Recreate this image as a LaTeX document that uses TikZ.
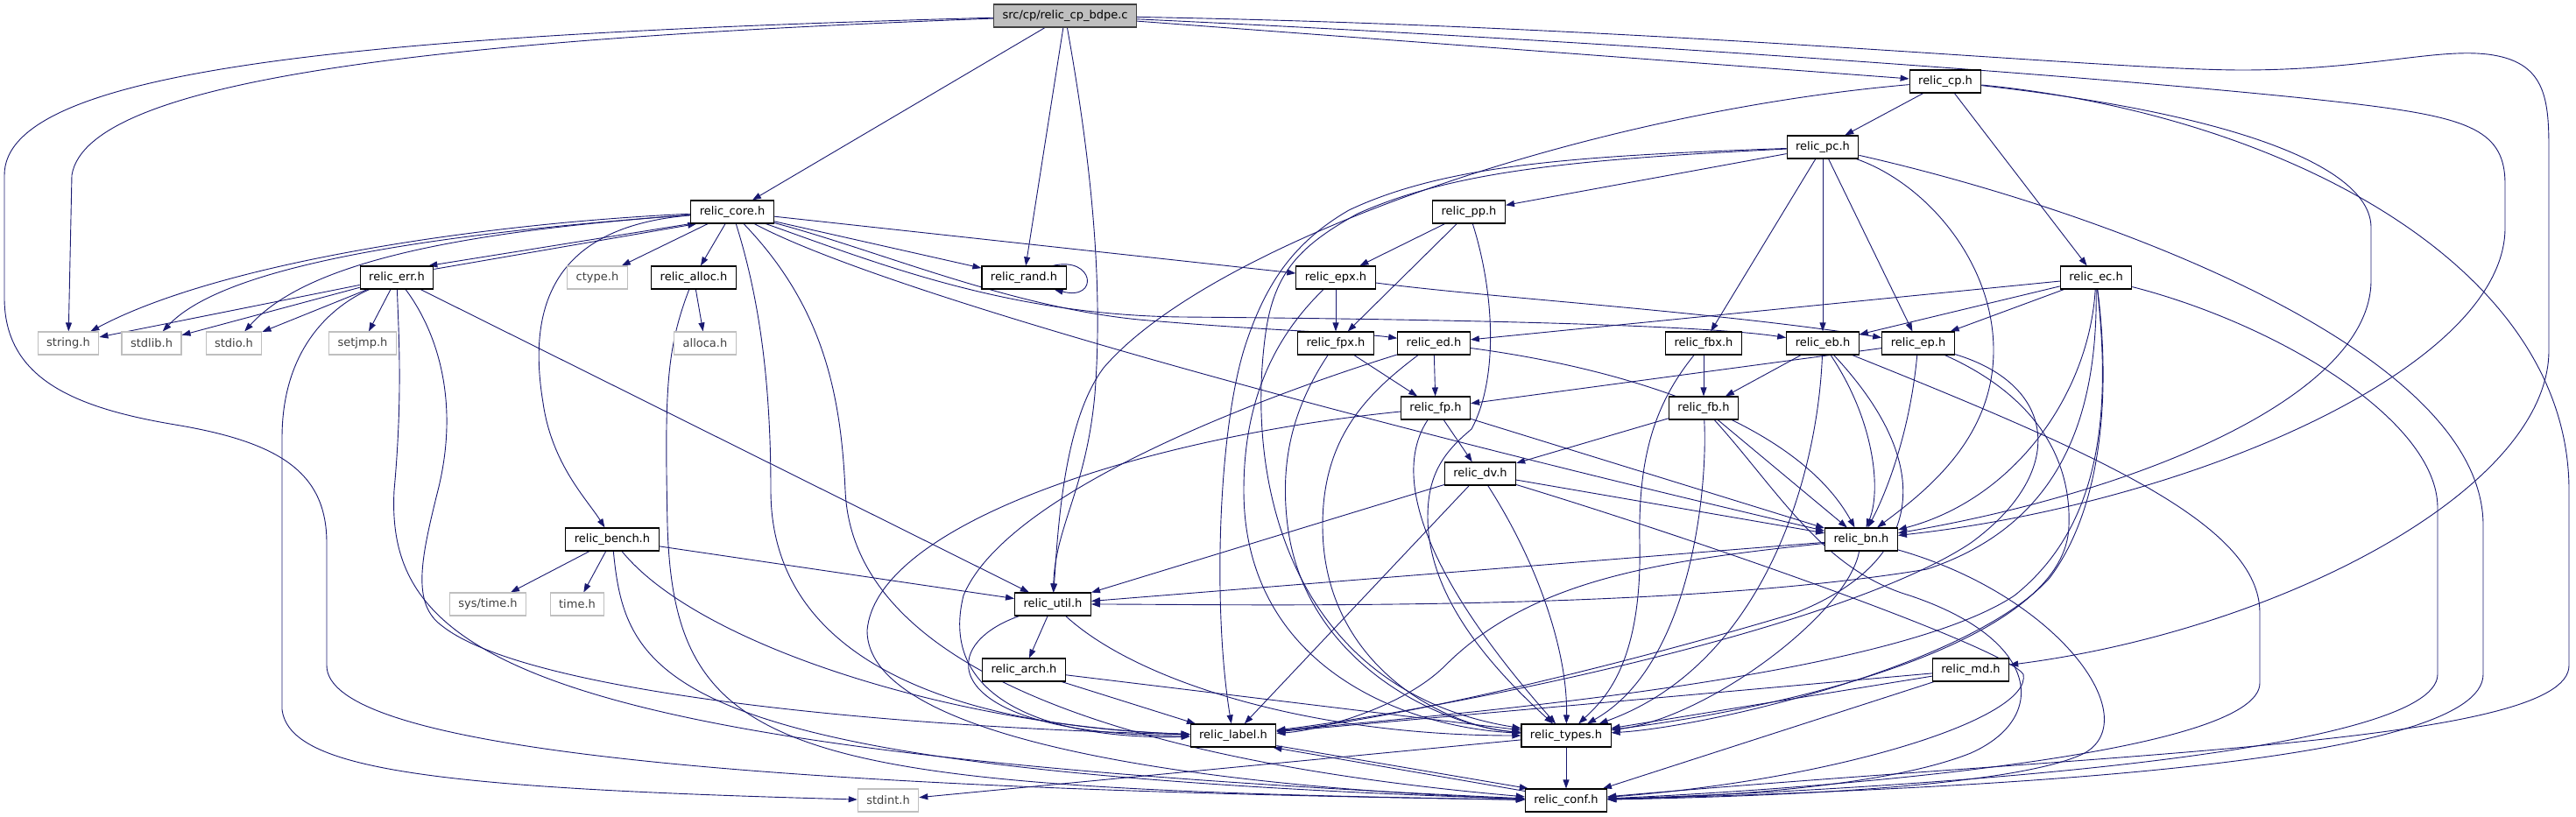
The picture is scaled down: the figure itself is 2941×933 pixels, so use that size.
\documentclass[tikz,border=0pt]{standalone}
\usepackage{fontspec}
\setmainfont{DejaVu Sans}
\usetikzlibrary{arrows.meta,backgrounds}
\definecolor{dxnavy}{RGB}{25,25,112}
\definecolor{dxgrey}{RGB}{191,191,191}
\tikzset{
  hblk/.style={rectangle, draw=black, fill=white, line width=1.1pt, text=black,
               font=\fontsize{13}{15}\selectfont, inner xsep=10pt, inner ysep=0pt, minimum height=26pt},
  sblk/.style={draw=dxgrey, text=black!75},
  fblk/.style={fill=dxgrey, draw=black!75},
  iarr/.style={-{Triangle[length=10pt,width=7pt]}, line width=0.9pt, dxnavy},
}
\begin{document}
\begin{tikzpicture}[x=1pt, y=-1pt, every node/.style={hblk}]
            \useasboundingbox (0,0) rectangle (2941,933);
            \node(src)[fblk] at (1216,18){src/cp/relic\_cp\_bdpe.c};
            \node(cp) at (2221,93){relic\_cp.h};
            \node(pc) at (2081,168){relic\_pc.h};
            \node(core) at (836,242){relic\_core.h};
            \node(pp) at (1677,242){relic\_pp.h};
            \node(err) at (453,317){relic\_err.h};
            \node(ctype)[sblk] at (682,317){ctype.h};
            \node(alloc) at (792,317){relic\_alloc.h};
            \node(rand) at (1169,317){relic\_rand.h};
            \node(epx) at (1525,317){relic\_epx.h};
            \node(ec) at (2393,317){relic\_ec.h};
            \node(string)[sblk] at (78,392){string.h};
            \node(stdlib)[sblk] at (173,392){stdlib.h};
            \node(stdio)[sblk] at (267,392){stdio.h};
            \node(setjmp)[sblk] at (414,392){setjmp.h};
            \node(alloca)[sblk] at (805,392){alloca.h};
            \node(fpx) at (1525,392){relic\_fpx.h};
            \node(ed) at (1637,392){relic\_ed.h};
            \node(fbx) at (1945,392){relic\_fbx.h};
            \node(eb) at (2081,392){relic\_eb.h};
            \node(ep) at (2190,392){relic\_ep.h};
            \node(fp) at (1639,466){relic\_fp.h};
            \node(fb) at (1945,466){relic\_fb.h};
            \node(dv) at (1690,541){relic\_dv.h};
            \node(bench) at (699,616){relic\_bench.h};
            \node(bn) at (2125,616){relic\_bn.h};
            \node(systime)[sblk] at (557,690){sys/time.h};
            \node(time)[sblk] at (659,690){time.h};
            \node(util) at (1202,690){relic\_util.h};
            \node(arch) at (1169,765){relic\_arch.h};
            \node(md) at (2250,765){relic\_md.h};
            \node(label) at (1408,840){relic\_label.h};
            \node(types) at (1788,840){relic\_types.h};
            \node(stdint)[sblk] at (1014,914){stdint.h};
            \node(conf) at (1788,914){relic\_conf.h};
            \begin{scope}[on background layer]
            \draw[iarr](src) .. controls (500,45) and (100,90) .. (82,200) -- (string);
            \draw[iarr](src) .. controls (400,40) and (5,80) .. (5,200) -- (5,340) .. controls (5,430) and (80,465) .. (200,485) .. controls (320,505) and (373,540) .. (373,620) -- (373,760) .. controls (373,850) and (800,900) .. (conf);
            \draw[iarr](src)--(core);\draw[iarr](src)--(rand);\draw[iarr](src)--(cp);
            \draw[iarr](src) .. controls (1245,180) and (1260,320) .. (1250,450) .. controls (1240,560) and (1205,600) .. (util);
            \draw[iarr](src) .. controls (1900,30) and (2400,80) .. (2560,80) .. controls (2700,80) and (2780,55) .. (2840,62) .. controls (2905,70) and (2910,110) .. (2910,170) -- (2910,400) .. controls (2910,560) and (2600,720) .. (md);
            \draw[iarr](src) .. controls (1900,50) and (2500,95) .. (2700,120) .. controls (2820,135) and (2860,150) .. (2860,210) -- (2860,260) .. controls (2860,420) and (2500,575) .. (bn);
            \draw[iarr](core.south west)--([xshift=-6pt]err.north east);
            \draw[iarr]([yshift=-4pt]err.north east)--([xshift=7pt]core.south west);
            \draw[iarr](core) .. controls (550,255) and (250,300) .. (string);
            \draw[iarr](core) .. controls (450,270) and (250,310) .. (stdlib);
            \draw[iarr](core) .. controls (520,265) and (350,300) .. (stdio);
            \draw[iarr](core)--(ctype);\draw[iarr](core)--(alloc);\draw[iarr](core)--(rand);\draw[iarr](core)--(epx);
            \draw[iarr](core) .. controls (640,258) and (600,340) .. (620,460) .. controls (630,530) and (670,570) .. (bench);
            \draw[iarr](core) .. controls (1000,285) and (1150,350) .. (1300,365) .. controls (1450,378) and (1550,380) .. (ed);
            \draw[iarr](core) .. controls (1000,300) and (1150,360) .. (1350,362) .. controls (1700,365) and (1950,372) .. (eb);
            \draw[iarr](core) .. controls (1000,330) and (1500,470) .. (bn);
            \draw[iarr](core) .. controls (870,350) and (880,450) .. (880,560) .. controls (880,760) and (1100,830) .. (label);
            \draw[iarr](core) .. controls (940,350) and (960,450) .. (965,560) .. controls (975,800) and (1400,880) .. (conf);
            \draw[iarr](err)--(string);\draw[iarr](err)--(stdlib);\draw[iarr](err)--(stdio);\draw[iarr](err)--(setjmp);\draw[iarr](err)--(util);
            \draw[iarr](err) .. controls (400,340) and (322,380) .. (322,500) -- (322,810) .. controls (330,880) and (500,900) .. (stdint);
            \draw[iarr](err) .. controls (455,380) and (460,450) .. (450,560) .. controls (440,750) and (600,860) .. (conf);
            \draw[iarr](err) .. controls (500,380) and (525,460) .. (500,560) .. controls (480,640) and (470,690) .. (505,715) .. controls (600,790) and (1000,830) .. (label);
            \draw[iarr](alloc)--(alloca);
            \draw[iarr](alloc) .. controls (760,400) and (759,450) .. (762,600) .. controls (770,870) and (900,900) .. (conf);
            \draw[iarr](bench)--(systime);\draw[iarr](bench)--(time);\draw[iarr](bench)--(util);
            \draw[iarr](bench) .. controls (800,740) and (1100,830) .. (label);
            \draw[iarr](bench) .. controls (715,780) and (760,880) .. (conf);
            \draw[iarr]([xshift=-16pt]rand.north east) .. controls (1250,292) and (1255,344) .. ([xshift=-14pt]rand.south east);
            \draw[iarr](epx)--(fpx);
            \draw[iarr](epx) .. controls (1700,340) and (1950,355) .. (ep);
            \draw[iarr](epx) .. controls (1460,380) and (1420,450) .. (1420,560) .. controls (1420,760) and (1600,830) .. (types);
            \draw[iarr](pp)--(epx);\draw[iarr](pp)--(fpx);
            \draw[iarr](pp) .. controls (1705,330) and (1712,430) .. (1680,490) .. controls (1650,515) and (1630,540) .. (1630,590) .. controls (1630,680) and (1700,760) .. (types);
            \draw[iarr](fpx)--(fp);
            \draw[iarr](fpx) .. controls (1480,460) and (1460,520) .. (1470,600) .. controls (1490,760) and (1650,830) .. (types);
            \draw[iarr](ed)--(fp);
            \draw[iarr](ed) .. controls (1850,420) and (2050,480) .. (bn);
            \draw[iarr](ed) .. controls (1450,450) and (1150,560) .. (1100,680) .. controls (1070,800) and (1200,845) .. (label);
            \draw[iarr](ed) .. controls (1560,450) and (1510,500) .. (1510,600) .. controls (1510,760) and (1650,830) .. (types);
            \draw[iarr](fbx)--(fb);
            \draw[iarr](fbx) .. controls (1890,460) and (1870,520) .. (1872,620) .. controls (1875,760) and (1830,800) .. (types);
            \draw[iarr](fb)--(dv);\draw[iarr](fb)--(bn);
            \draw[iarr](fb) .. controls (1950,560) and (1930,760) .. (types);
            \draw[iarr](fb) .. controls (2030,560) and (2080,650) .. (2180,680) .. controls (2330,730) and (2340,820) .. (2250,860) .. controls (2150,900) and (1950,910) .. (conf);
            \draw[iarr](eb)--(fb);
            \draw[iarr](eb) .. controls (2140,480) and (2148,560) .. (bn);
            \draw[iarr](eb) .. controls (2075,550) and (2010,760) .. (types);
            \draw[iarr](eb) .. controls (2210,530) and (2200,640) .. (2050,700) .. controls (1850,760) and (1600,820) .. (label);
            \draw[iarr](eb) .. controls (2400,520) and (2580,600) .. (2580,700) -- (2580,780) .. controls (2580,860) and (2100,900) .. (conf);
            \draw[iarr](ep)--(fp);
            \draw[iarr](ep) .. controls (2180,500) and (2150,570) .. (bn);
            \draw[iarr](ep) .. controls (2320,450) and (2365,520) .. (2362,600) .. controls (2360,720) and (2100,800) .. (types);
            \draw[iarr](ep) .. controls (2350,440) and (2360,540) .. (2250,620) .. controls (2100,720) and (1650,810) .. (label);
            \draw[iarr](ec)--(ed);\draw[iarr](ec)--(eb);\draw[iarr](ec)--(ep);
            \draw[iarr](ec) .. controls (2385,450) and (2300,570) .. (bn);
            \draw[iarr](ec) .. controls (2395,480) and (2350,600) .. (2200,650) .. controls (1900,700) and (1400,690) .. (util);
            \draw[iarr](ec) .. controls (2410,470) and (2400,600) .. (2300,680) .. controls (2150,780) and (1600,820) .. (label);
            \draw[iarr](ec) .. controls (2410,450) and (2400,580) .. (2340,660) .. controls (2250,760) and (1950,830) .. (types);
            \draw[iarr](ec) .. controls (2600,370) and (2783,480) .. (2783,580) -- (2783,770) .. controls (2783,860) and (2200,900) .. (conf);
            \draw[iarr](pc)--(pp);\draw[iarr](pc)--(fbx);\draw[iarr](pc)--(eb);\draw[iarr](pc)--(ep);
            \draw[iarr](pc) .. controls (2200,210) and (2276,300) .. (2276,400) .. controls (2276,500) and (2200,560) .. (bn);
            \draw[iarr](pc) .. controls (2400,240) and (2835,400) .. (2835,600) -- (2835,770) .. controls (2835,870) and (2300,900) .. (conf);
            \draw[iarr](pc) .. controls (1800,178) and (1650,188) .. (1540,240) .. controls (1480,275) and (1445,320) .. (1420,400) .. controls (1390,500) and (1385,700) .. (label);
            \draw[iarr](pc) .. controls (1800,182) and (1660,195) .. (1550,244) .. controls (1485,280) and (1455,310) .. (1445,380) .. controls (1420,560) and (1480,790) .. (types);
            \draw[iarr](cp)--(pc);\draw[iarr](cp)--(ec);
            \draw[iarr](cp) .. controls (2550,130) and (2707,190) .. (2707,260) -- (2707,320) .. controls (2707,450) and (2450,560) .. (bn);
            \draw[iarr](cp) .. controls (2600,130) and (2933,300) .. (2933,560) -- (2933,760) .. controls (2933,850) and (2400,860) .. (conf);
            \draw[iarr](cp) .. controls (1800,130) and (1380,280) .. (1260,420) .. controls (1215,480) and (1208,600) .. (util);
            \draw[iarr](md)--(label);\draw[iarr](md)--(types);\draw[iarr](md)--(conf);
            \draw[iarr](dv)--(util);\draw[iarr](dv)--(label);\draw[iarr](dv)--(bn);
            \draw[iarr](dv) .. controls (1760,650) and (1790,750) .. (types);
            \draw[iarr](dv) .. controls (1950,620) and (2290,740) .. (2310,770) .. controls (2320,820) and (2100,890) .. (conf);
            \draw[iarr](fp)--(dv);\draw[iarr](fp)--(bn);
            \draw[iarr](fp) .. controls (1590,540) and (1620,650) .. (types);
            \draw[iarr](fp) .. controls (1300,500) and (1000,600) .. (990,720) .. controls (990,850) and (1400,900) .. (conf);
            \draw[iarr](bn)--(util);
            \draw[iarr](bn) .. controls (1900,640) and (1750,660) .. (1650,760) .. controls (1600,810) and (1500,835) .. (label);
            \draw[iarr](bn) .. controls (2110,700) and (1950,820) .. (types);
            \draw[iarr](bn) .. controls (2350,680) and (2450,820) .. (2380,860) .. controls (2300,900) and (2000,910) .. (conf);
            \draw[iarr](util)--(arch);
            \draw[iarr](util) .. controls (1060,740) and (1080,840) .. (label);
            \draw[iarr](util) .. controls (1300,780) and (1500,840) .. (types);
            \draw[iarr](arch)--(label);\draw[iarr](arch)--(types);
            \draw[iarr]([yshift=2pt]label.south east)--([xshift=4pt]conf.north west);
            \draw[iarr]([yshift=-3pt]conf.north west)--([xshift=-4pt]label.south east);
            \draw[iarr](types)--(conf);\draw[iarr](types)--(stdint);
            \end{scope}
        \end{tikzpicture}
\end{document}
